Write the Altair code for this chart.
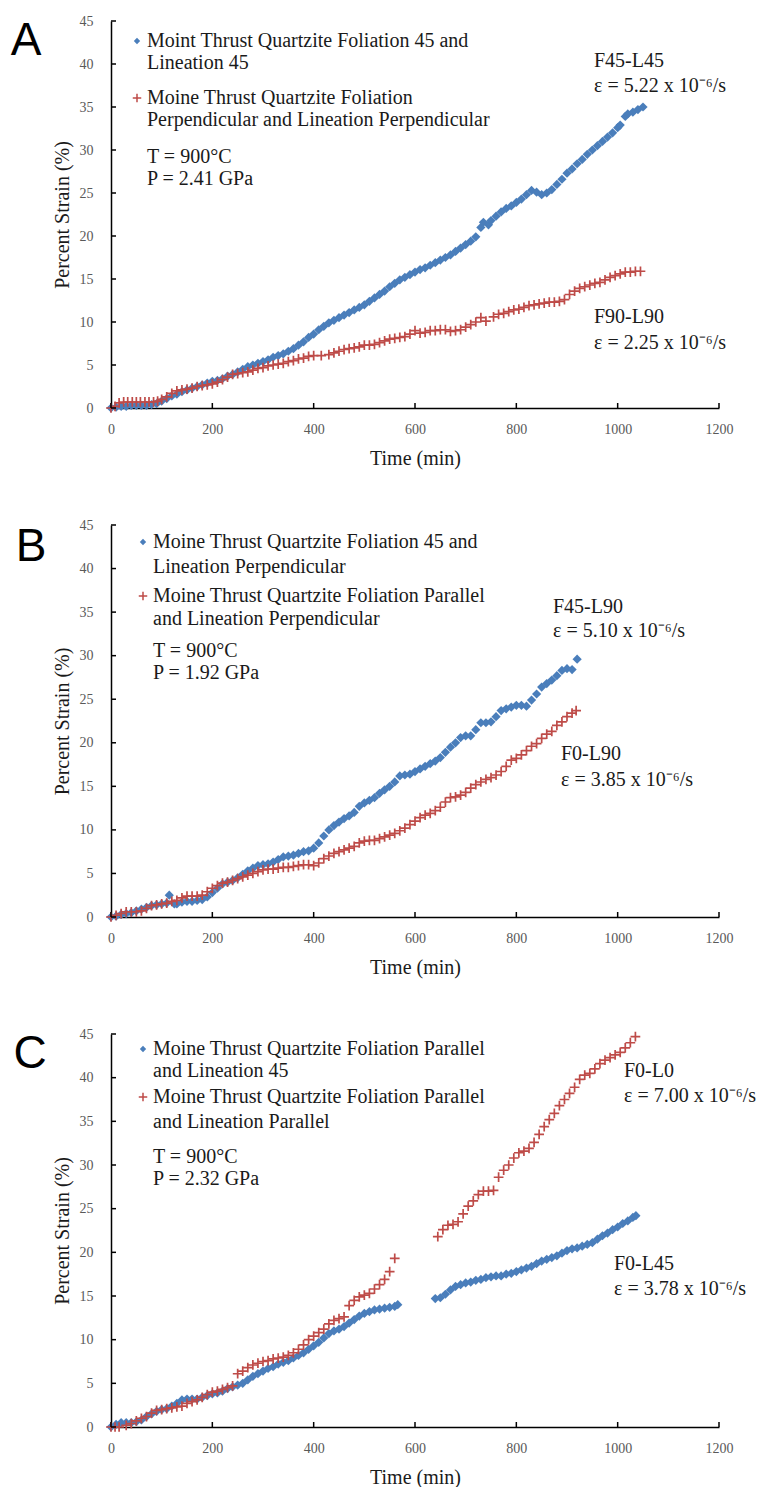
import altair as alt
import pandas as pd

# ---------------- data ----------------
# Panel A
A_BLUE_T = [0,10,20,30,40,50,60,70,80,90,100,110,120,130,140,150,160,170,180,190,200,210,220,230,240,250,260,270,280,290,
            300,310,320,330,340,350,360,370,380,390,400,410,420,430,440,450,460,470,480,490,500,510,520,530,540,550,560,570,
            580,590,600,610,620,630,640,650,660,670,680,690,700,710,720,730,735,745,750,760,770,780,790,800,810,820,830,840,
            850,860,870,880,890,900,910,920,930,940,950,960,970,980,990,1000,1005,1015,1020,1030,1040,1050]
A_BLUE_S = [0.0,0.1,0.2,0.2,0.3,0.3,0.3,0.3,0.4,0.5,0.8,1.1,1.4,1.6,1.9,2.1,2.3,2.5,2.7,2.9,3.1,3.2,3.4,3.7,3.9,4.2,4.5,4.8,5.0,5.2,
            5.4,5.6,5.9,6.1,6.3,6.6,6.9,7.3,7.7,8.2,8.6,9.1,9.5,9.9,10.2,10.5,10.8,11.1,11.4,11.7,12.0,12.4,12.8,13.2,13.6,14.1,14.5,14.9,
            15.2,15.5,15.8,16.1,16.3,16.6,16.9,17.2,17.5,17.8,18.2,18.6,19.0,19.4,19.9,21.0,21.6,21.3,21.8,22.3,22.8,23.2,23.5,23.9,24.3,24.8,25.3,25.1,
            24.8,25.0,25.4,26.0,26.6,27.3,27.8,28.4,28.9,29.5,30.0,30.5,31.0,31.5,32.0,32.6,32.9,33.9,34.2,34.4,34.7,35.0]
A_RED_T = [0,8,16,25,33,42,50,58,67,75,84,92,100,110,120,130,140,150,160,170,180,190,200,210,220,230,240,250,260,270,280,290,
           300,310,320,330,340,350,360,370,380,390,400,415,430,440,450,460,470,480,490,500,510,520,530,540,550,560,570,580,590,
           600,610,620,630,640,650,660,670,680,690,700,710,720,730,740,755,765,775,785,795,805,815,825,835,845,855,865,875,885,
           895,905,915,925,935,945,955,965,975,985,995,1005,1015,1025,1035,1045]
A_RED_S = [0.0,0.2,0.6,0.7,0.7,0.7,0.7,0.7,0.7,0.7,0.7,0.8,1.0,1.3,1.7,2.0,2.1,2.2,2.3,2.5,2.6,2.7,2.8,3.0,3.3,3.6,3.9,4.0,4.1,4.2,4.4,4.6,
           4.7,4.9,5.0,5.1,5.2,5.4,5.5,5.7,5.8,6.0,6.1,6.1,6.2,6.4,6.6,6.8,6.9,7.0,7.1,7.3,7.3,7.4,7.6,7.8,8.0,8.1,8.2,8.3,8.6,
           9.0,8.7,8.8,9.0,9.0,9.1,9.1,8.9,9.0,9.1,9.4,9.7,10.0,10.5,10.1,10.6,10.9,11.0,11.2,11.4,11.5,11.7,11.9,12.0,12.1,12.2,12.3,12.3,12.4,
           12.6,13.2,13.6,13.9,14.1,14.3,14.5,14.6,14.9,15.2,15.4,15.6,15.8,15.8,15.9,15.9]

# Panel B
B_BLUE_T = [0,10,20,30,40,50,60,70,80,90,100,110,115,125,130,140,150,160,170,180,190,200,210,220,230,240,250,260,270,280,290,
            300,310,320,330,340,350,360,370,380,390,400,410,420,430,440,450,460,470,480,490,500,510,520,530,540,550,560,570,580,590,
            600,610,620,630,640,650,660,670,680,690,700,710,720,730,740,750,760,770,780,790,800,810,820,830,840,850,860,870,880,890,
            900,910,920]
B_BLUE_S = [0.0,0.1,0.3,0.4,0.5,0.7,0.9,1.1,1.3,1.4,1.5,1.6,2.5,1.5,1.5,1.7,1.8,1.8,1.9,2.0,2.3,2.8,3.3,3.8,4.0,4.2,4.5,4.9,5.3,5.6,5.9,
            6.0,6.1,6.3,6.6,6.9,7.0,7.1,7.3,7.5,7.6,7.9,8.5,9.3,10.0,10.5,10.9,11.3,11.6,12.0,12.7,13.1,13.4,13.7,14.2,14.6,15.0,15.5,16.2,16.3,16.4,
            16.7,17.0,17.3,17.6,17.9,18.3,18.9,19.5,20.0,20.6,20.8,20.8,21.5,22.3,22.3,22.4,23.0,23.7,23.9,24.1,24.3,24.3,24.2,24.9,25.6,26.4,26.8,27.2,27.7,28.3,
            28.5,28.4,29.6]
B_RED_T = [0,10,20,30,40,50,60,70,80,90,100,110,120,130,140,150,160,170,180,190,200,210,220,230,240,250,260,270,280,290,
           300,310,320,330,340,350,360,370,380,390,400,410,420,430,440,450,460,470,480,490,500,510,520,530,540,550,560,570,580,590,
           600,610,620,630,640,650,660,670,680,690,700,710,720,730,740,750,760,770,780,790,800,810,820,830,840,850,860,870,880,890,
           900,910,918]
B_RED_S = [0.0,0.2,0.4,0.6,0.6,0.6,0.7,1.0,1.3,1.4,1.5,1.6,1.8,1.9,2.2,2.4,2.4,2.4,2.5,2.9,3.3,3.6,3.9,4.0,4.2,4.4,4.6,4.8,5.0,5.2,
           5.4,5.5,5.5,5.6,5.7,5.7,5.8,5.9,6.0,6.0,5.9,6.2,6.7,7.0,7.3,7.5,7.7,7.9,8.1,8.5,8.7,8.8,8.8,9.0,9.2,9.4,9.6,9.9,10.2,10.6,
           11.0,11.4,11.7,11.9,12.2,12.6,13.2,13.7,13.8,14.0,14.3,14.8,15.2,15.5,15.8,16.0,16.3,16.7,17.3,18.0,18.2,18.6,19.1,19.6,19.9,20.5,21.0,21.3,22.0,22.4,
           23.0,23.4,23.7]

# Panel C
C_BLUE_T = [0,10,20,30,40,50,60,70,80,90,100,110,120,130,140,150,160,170,180,190,200,210,220,230,240,250,260,270,280,290,
            300,310,320,330,340,350,360,370,380,390,400,410,420,430,440,450,460,470,480,490,500,510,520,530,540,550,560,566,
            640,650,660,670,680,690,700,710,720,730,740,750,760,770,780,790,800,810,820,830,840,850,860,870,880,890,
            900,910,920,930,940,950,960,970,980,990,1000,1010,1020,1030,1036]
C_BLUE_S = [0.0,0.3,0.5,0.5,0.5,0.6,0.8,1.2,1.5,1.8,2.0,2.1,2.4,2.7,3.1,3.2,3.2,3.2,3.4,3.6,3.8,3.9,4.1,4.4,4.6,4.8,5.0,5.4,5.8,6.1,
            6.4,6.7,6.9,7.2,7.4,7.6,7.9,8.2,8.5,8.9,9.3,9.7,10.2,10.7,11.0,11.2,11.5,11.9,12.3,12.7,13.0,13.2,13.4,13.5,13.6,13.7,13.8,14.0,
            14.7,14.8,15.2,15.7,16.1,16.3,16.5,16.6,16.8,16.9,17.1,17.2,17.3,17.3,17.5,17.6,17.8,18.0,18.2,18.4,18.7,19.0,19.2,19.4,19.6,19.9,
            20.2,20.4,20.5,20.7,20.9,21.1,21.5,21.9,22.2,22.6,22.9,23.3,23.6,24.0,24.2]
C_RED_T = [0,8,16,30,40,50,60,70,80,90,100,110,120,130,140,150,160,170,180,190,200,210,220,230,240,250,260,270,280,290,
           300,310,320,330,340,350,360,370,380,390,400,410,420,430,440,450,460,470,480,490,500,510,520,530,540,550,560,
           645,655,665,675,685,695,705,715,725,735,745,755,765,775,785,795,805,815,825,835,845,855,865,875,885,895,905,915,
           925,935,945,955,965,975,985,995,1005,1015,1025,1035]
C_RED_S = [0.0,0.0,0.0,0.2,0.4,0.7,1.0,1.2,1.6,1.9,2.0,2.1,2.2,2.3,2.4,2.7,2.9,3.1,3.4,3.7,4.0,4.1,4.3,4.5,4.7,6.1,6.4,6.8,7.1,7.3,
           7.5,7.6,7.8,7.9,8.0,8.2,8.5,8.9,9.4,10.0,10.4,10.8,11.2,11.8,12.2,12.4,12.6,13.9,14.5,14.9,15.1,15.3,15.8,16.3,16.9,17.8,19.3,
           21.8,22.6,23.1,23.2,23.5,24.4,25.3,25.9,26.6,27.0,27.0,27.1,28.6,29.4,30.0,30.8,31.4,31.6,31.9,32.6,33.5,34.4,35.2,35.9,36.8,37.5,38.2,38.9,
           39.8,40.3,40.5,41.0,41.6,42.0,42.3,42.6,42.9,43.4,44.0,44.7]

X_TICKS = [0, 200, 400, 600, 800, 1000, 1200]
Y_TICKS = [0, 5, 10, 15, 20, 25, 30, 35, 40, 45]

LETTERS = ["A", "B", "C"]
LEGEND_A = ["Moint Thrust Quartzite Foliation 45 and", "Lineation 45",
            "Moine Thrust Quartzite Foliation", "Perpendicular and Lineation Perpendicular"]
LEGEND_B = ["Moine Thrust Quartzite Foliation 45 and", "Lineation Perpendicular",
            "Moine Thrust Quartzite Foliation Parallel", "and Lineation Perpendicular"]
LEGEND_C = ["Moine Thrust Quartzite Foliation Parallel", "and Lineation 45",
            "Moine Thrust Quartzite Foliation Parallel", "and Lineation Parallel"]
COND_A = ["T = 900°C", "P = 2.41 GPa"]
COND_B = ["T = 900°C", "P = 1.92 GPa"]
COND_C = ["T = 900°C", "P = 2.32 GPa"]
ANN_A = ["F45-L45", "ε = 5.22 x 10⁻⁶/s", "F90-L90", "ε = 2.25 x 10⁻⁶/s"]
ANN_B = ["F45-L90", "ε = 5.10 x 10⁻⁶/s", "F0-L90", "ε = 3.85 x 10⁻⁶/s"]
ANN_C = ["F0-L0", "ε = 7.00 x 10⁻⁶/s", "F0-L45", "ε = 3.78 x 10⁻⁶/s"]

# ---------------- styling ----------------
BLUE = "#4a7ebb"
RED = "#be4b48"
SERIF = "Liberation Serif"
SANS = "Liberation Sans"
TXT = "#1a1a1a"
W = 608
CROSS = "M-1,0L1,0M0,-1L0,1"

ONE = pd.DataFrame({"k": [0]})
XS = alt.Scale(domain=[0, 1200], nice=False, zero=False)
YS = alt.Scale(domain=[0, 45], nice=False, zero=False)

XAX = alt.Axis(values=X_TICKS, title="Time (min)", labelFlush=False, labelOverlap=False,
               ticks=False, labelPadding=14, titlePadding=12, format="d")
YAX = alt.Axis(values=Y_TICKS, title="Percent Strain (%)", labelFlush=False, labelOverlap=False,
               ticks=False, labelPadding=18, titlePadding=7, format="d")


def txt(s, x, y, size=20, font=SERIF, align="left", color=TXT):
    return alt.Chart(ONE).mark_text(text=s, align=align, baseline="middle", font=font,
                                    fontSize=size, color=color).encode(x=alt.value(x), y=alt.value(y))


def panel(h, letter, letter_pos, bt, bs, rt, rs, legend, leg_x, leg_ys, mk_x, cond, ann, ann_pos):
    blue = alt.Chart(pd.DataFrame({"t": bt, "s": bs})).mark_point(
        shape="diamond", filled=True, size=85, color=BLUE, opacity=1
    ).encode(x=alt.X("t:Q", scale=XS, axis=XAX), y=alt.Y("s:Q", scale=YS, axis=YAX))
    red = alt.Chart(pd.DataFrame({"t": rt, "s": rs})).mark_point(
        shape=CROSS, filled=False, size=95, strokeWidth=1.7, color=RED, opacity=1
    ).encode(x=alt.X("t:Q", scale=XS, axis=XAX), y=alt.Y("s:Q", scale=YS, axis=YAX))
    yt = alt.Chart(pd.DataFrame({"s": Y_TICKS})).mark_rule(color="black", strokeWidth=1.5).encode(
        y=alt.Y("s:Q", scale=YS, axis=YAX), x=alt.value(0), x2=alt.value(5))
    xt = alt.Chart(pd.DataFrame({"t": X_TICKS})).mark_rule(color="black", strokeWidth=1.5).encode(
        x=alt.X("t:Q", scale=XS, axis=XAX), y=alt.value(h), y2=alt.value(h - 5))
    layers = [blue, red, yt, xt]
    layers.append(txt(letter, letter_pos[0], letter_pos[1], size=46, font=SANS, align="center", color="black"))
    # legend
    layers.append(alt.Chart(ONE).mark_point(shape="diamond", filled=True, size=40, color=BLUE, opacity=1)
                  .encode(x=alt.value(mk_x), y=alt.value(leg_ys[0])))
    layers.append(alt.Chart(ONE).mark_point(shape=CROSS, filled=False, size=72, strokeWidth=1.5, color=RED, opacity=1)
                  .encode(x=alt.value(mk_x), y=alt.value(leg_ys[2])))
    for s, y in zip(legend, leg_ys[:4]):
        layers.append(txt(s, leg_x, y, size=20))
    for s, y in zip(cond, leg_ys[4:]):
        layers.append(txt(s, leg_x, y, size=20))
    for s, (x, y) in zip(ann, ann_pos):
        layers.append(txt(s, x, y))
    return alt.layer(*layers).properties(width=W, height=h)


pA = panel(387, LETTERS[0], (-85, 20), A_BLUE_T, A_BLUE_S, A_RED_T, A_RED_S, LEGEND_A, 36,
           [20, 42, 77, 99, 136, 158], 26, COND_A, ANN_A, [(483, 40), (483, 65), (483, 296), (483, 322)])
pB = panel(392, LETTERS[1], (-80, 22), B_BLUE_T, B_BLUE_S, B_RED_T, B_RED_S, LEGEND_B, 42,
           [17, 42, 71, 94, 126, 148], 32, COND_B, ANN_B, [(442, 82), (442, 106), (450, 229), (450, 255)])
pC = panel(393, LETTERS[2], (-81, 20), C_BLUE_T, C_BLUE_S, C_RED_T, C_RED_S, LEGEND_C, 42,
           [15, 37, 63, 88, 123, 145], 32, COND_C, ANN_C, [(513, 37), (513, 62), (503, 230), (503, 255)])

chart = alt.vconcat(pA, pB, pC, spacing=117, bounds="flush").properties(
    padding={"left": 10, "top": 14, "right": 0, "bottom": 0}, background="white"
).configure_axis(
    domainColor="black", domainWidth=1.5, grid=False,
    labelFont=SERIF, labelFontSize=14, labelColor="#595959",
    titleFont=SERIF, titleFontSize=20, titleFontWeight="normal", titleColor=TXT
).configure_view(stroke=None)

chart.save("out.html", embed_options={"renderer": "svg", "actions": False})
